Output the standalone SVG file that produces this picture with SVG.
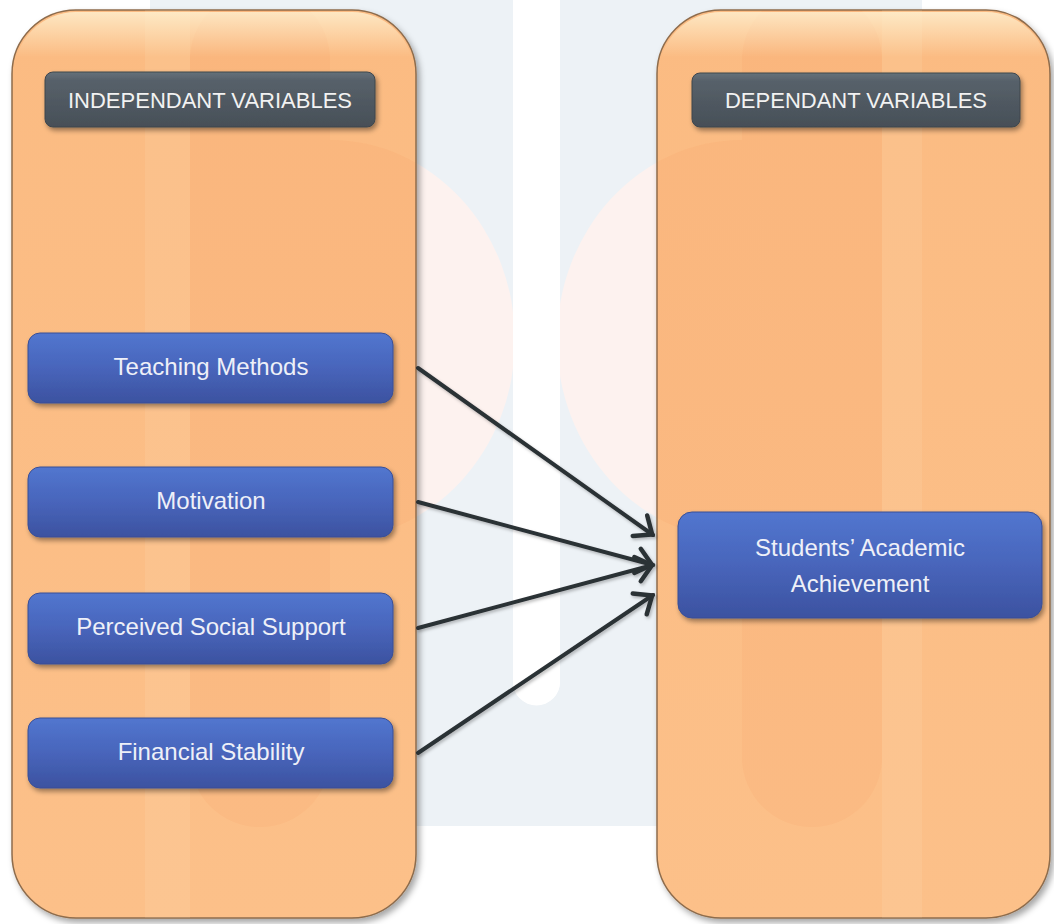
<svg xmlns="http://www.w3.org/2000/svg" width="1054" height="924" viewBox="0 0 1054 924">
  <defs>
    <style>
      .panel { fill: url(#panelGrad); stroke: #8e6c4c; stroke-width: 1.5; filter: url(#panelShadow); }
      .panelGloss { fill: url(#glossGrad); stroke: none; }
      .header { fill: url(#headerGrad); stroke: #3e464d; stroke-width: 1; filter: url(#boxShadow); }
      .box { fill: url(#boxGrad); stroke: #394f96; stroke-width: 1; filter: url(#boxShadow); }
      .hdrText { font-family: "Liberation Sans", Arial, sans-serif; font-size: 22px; fill: #f2f2f2; text-anchor: middle; }
      .boxText { font-family: "Liberation Sans", Arial, sans-serif; font-size: 24px; fill: #eef0f8; text-anchor: middle; }
      .conn { fill: none; stroke: #2c3135; stroke-width: 4; stroke-linecap: round; marker-end: url(#chev); }
      .wmBlue { fill: #edf2f6; }
      .wmPink { fill: #fdf2ef; }
      .wmOrange { fill: #e9602f; opacity: 0.05; }
      .wmLight { fill: #fff3dc; opacity: 0.1; }
    </style>
    <linearGradient id="panelGrad" x1="0" y1="0" x2="0" y2="1">
      <stop offset="0" stop-color="#fbbb82"/>
      <stop offset="1" stop-color="#fcc089"/>
    </linearGradient>
    <linearGradient id="glossGrad" x1="0" y1="0" x2="0" y2="1">
      <stop offset="0" stop-color="#fff6d8" stop-opacity="0.75"/>
      <stop offset="0.05" stop-color="#fff6d8" stop-opacity="0"/>
      <stop offset="1" stop-color="#fff6d8" stop-opacity="0"/>
    </linearGradient>
    <linearGradient id="headerGrad" x1="0" y1="0" x2="0" y2="1">
      <stop offset="0" stop-color="#66717a"/>
      <stop offset="0.15" stop-color="#57616a"/>
      <stop offset="1" stop-color="#474f57"/>
    </linearGradient>
    <linearGradient id="boxGrad" x1="0" y1="0" x2="0" y2="1">
      <stop offset="0" stop-color="#5276cf"/>
      <stop offset="0.5" stop-color="#4865bb"/>
      <stop offset="1" stop-color="#3c52a0"/>
    </linearGradient>
    <filter id="panelShadow" x="-5%" y="-5%" width="115%" height="110%">
      <feDropShadow dx="3" dy="4" stdDeviation="3" flood-color="#000" flood-opacity="0.35"/>
    </filter>
    <filter id="boxShadow" x="-5%" y="-15%" width="115%" height="140%">
      <feDropShadow dx="2" dy="3" stdDeviation="2.5" flood-color="#000" flood-opacity="0.4"/>
    </filter>
    <filter id="lineShadow" x="-10%" y="-10%" width="120%" height="120%">
      <feDropShadow dx="1.5" dy="2" stdDeviation="1.5" flood-color="#000" flood-opacity="0.25"/>
    </filter>
    <clipPath id="leftPanelClip"><rect x="12" y="10" width="404" height="908" rx="64" ry="64"/></clipPath>
    <clipPath id="rightPanelClip"><rect x="657" y="10" width="393" height="908" rx="64" ry="64"/></clipPath>
    <marker id="chev" markerUnits="userSpaceOnUse" viewBox="-22 -16 26 32" markerWidth="26" markerHeight="32" refX="1" refY="0" orient="auto" overflow="visible">
      <path d="M-15,-12.5 L0,0 L-15,12.5" fill="none" stroke="#2c3135" stroke-width="4.5" stroke-linecap="round" stroke-linejoin="miter"/>
    </marker>
  </defs>

  <rect x="0" y="0" width="1054" height="924" fill="#ffffff"/>

  <!-- faint background watermark (visible between panels) -->
  <g id="watermark-back">
    <path class="wmBlue" fill-rule="evenodd" d="M150,-10 H922 V626 A200,200 0 0 1 722,826 H350 A200,200 0 0 1 150,626 Z M513,-10 V682 A23.5,23.5 0 0 0 560,682 V-10 Z"/>
    <path class="wmPink" d="M330,140 A185,200 0 0 1 330,540 Z"/>
    <path class="wmPink" d="M742,140 A185,200 0 0 0 742,540 Z"/>
    <rect x="513" y="-10" width="47" height="715" rx="23.5" ry="23.5" fill="#ffffff"/>
  </g>

  <!-- panels -->
  <g id="panel-independent">
    <rect class="panel" x="12" y="10" width="404" height="908" rx="64" ry="64"/>
    <g clip-path="url(#leftPanelClip)">
      <rect class="wmLight" x="145" y="0" width="45" height="924"/>
      <rect class="wmOrange" x="190" y="-10" width="140" height="837" rx="70" ry="70"/>
      <path class="wmOrange" d="M330,140 A185,200 0 0 1 330,540 Z"/>
    </g>
    <rect class="panelGloss" x="14" y="12" width="400" height="904" rx="62" ry="62"/>
  </g>
  <g id="panel-dependent">
    <rect class="panel" x="657" y="10" width="393" height="908" rx="64" ry="64"/>
    <g clip-path="url(#rightPanelClip)">
      <rect class="wmLight" x="882" y="0" width="40" height="924"/>
      <rect class="wmOrange" x="742" y="-10" width="140" height="837" rx="70" ry="70"/>
      <path class="wmOrange" d="M742,140 A185,200 0 0 0 742,540 Z"/>
    </g>
    <rect class="panelGloss" x="659" y="12" width="389" height="904" rx="62" ry="62"/>
  </g>

  <!-- headers -->
  <g id="header-independent">
    <rect class="header" x="45" y="72" width="330" height="55" rx="8" ry="8"/>
    <text class="hdrText" x="210" y="108">INDEPENDANT VARIABLES</text>
  </g>
  <g id="header-dependent">
    <rect class="header" x="692" y="73" width="328" height="54" rx="8" ry="8"/>
    <text class="hdrText" x="856" y="108">DEPENDANT VARIABLES</text>
  </g>

  <!-- independent variable nodes -->
  <g id="node-teaching">
    <rect class="box" x="28" y="333" width="365" height="70" rx="12" ry="12"/>
    <text class="boxText" x="211" y="375">Teaching Methods</text>
  </g>
  <g id="node-motivation">
    <rect class="box" x="28" y="467" width="365" height="70" rx="12" ry="12"/>
    <text class="boxText" x="211" y="509">Motivation</text>
  </g>
  <g id="node-social">
    <rect class="box" x="28" y="593" width="365" height="71" rx="12" ry="12"/>
    <text class="boxText" x="211" y="635">Perceived Social Support</text>
  </g>
  <g id="node-financial">
    <rect class="box" x="28" y="718" width="365" height="70" rx="12" ry="12"/>
    <text class="boxText" x="211" y="760">Financial Stability</text>
  </g>

  <!-- dependent variable node -->
  <g id="node-achievement">
    <rect class="box" x="678" y="512" width="364" height="106" rx="14" ry="14"/>
    <text class="boxText" x="860" y="556">Students’ Academic</text>
    <text class="boxText" x="860" y="592">Achievement</text>
  </g>

  <!-- connectors -->
  <g id="connectors" filter="url(#lineShadow)">
    <line class="conn" x1="418" y1="368" x2="653" y2="535"/>
    <line class="conn" x1="418" y1="502" x2="653" y2="565"/>
    <line class="conn" x1="418" y1="628" x2="653" y2="565"/>
    <line class="conn" x1="418" y1="753" x2="653" y2="595"/>
  </g>
</svg>
